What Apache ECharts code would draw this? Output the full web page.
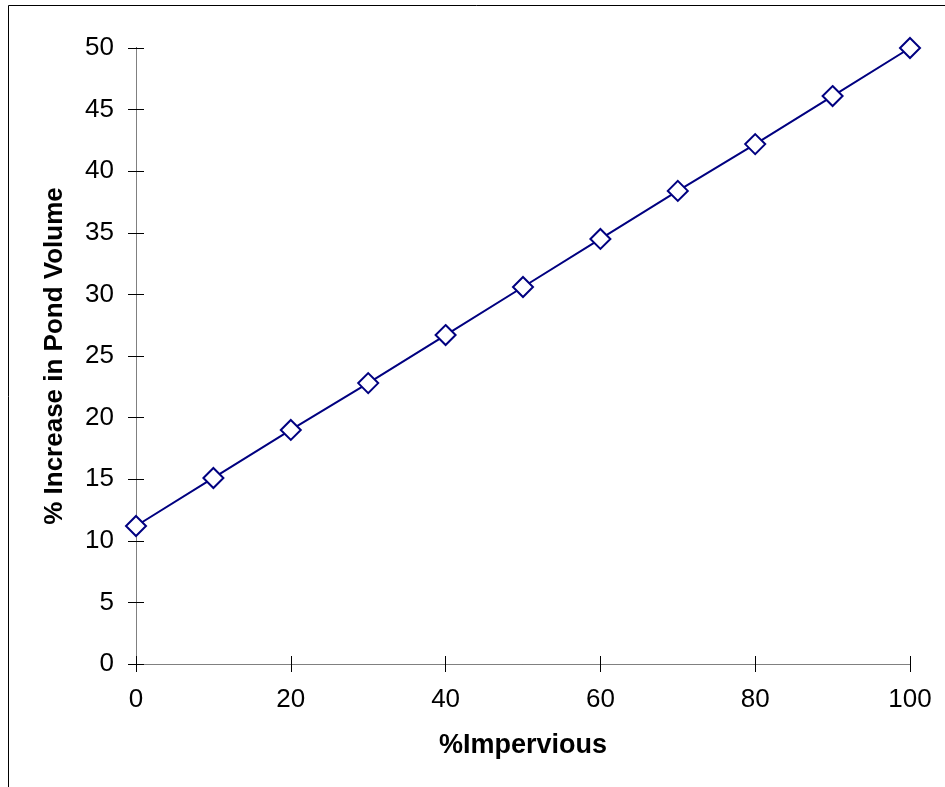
<!DOCTYPE html>
<html>
<head>
<meta charset="utf-8">
<script src="https://cdn.jsdelivr.net/npm/echarts@6/dist/echarts.min.js"></script>
<style>
html,body{margin:0;padding:0;background:#fff;}
#chart{width:945px;height:787px;}
</style>
</head>
<body>
<div id="chart"></div>
<script>
var imperviousPct = [0, 10, 20, 30, 40, 50, 60, 70, 80, 90, 100];
var volumeIncrease = [11.2, 15.1, 19.0, 22.8, 26.7, 30.6, 34.5, 38.4, 42.2, 46.1, 50.0];
var xTitle = '%Impervious';
var yTitle = '% Increase in Pond Volume';

var FONT = '"Liberation Sans", Arial, sans-serif';
var chart = echarts.init(document.getElementById('chart'));
var points = imperviousPct.map(function (x, i) { return [x, volumeIncrease[i]]; });

chart.setOption({
  animation: false,
  backgroundColor: '#fff',
  grid: { left: 136, right: 35, top: 48, bottom: 123, containLabel: false },
  graphic: [
    { type: 'line', shape: { x1: 8.5, y1: 5.5, x2: 945, y2: 5.5 }, style: { stroke: '#000', lineWidth: 1 } },
    { type: 'line', shape: { x1: 8.5, y1: 5.5, x2: 8.5, y2: 787 }, style: { stroke: '#000', lineWidth: 1 } }
  ],
  xAxis: [
    {
      type: 'value', position: 'bottom', min: 0, max: 100, interval: 20,
      axisLine: { lineStyle: { color: '#000', width: 1 } },
      axisTick: { show: true, inside: false, length: 8, lineStyle: { color: '#000' } },
      axisLabel: { color: '#000', fontFamily: FONT, fontSize: 26, margin: 23 },
      splitLine: { show: false },
      name: xTitle, nameLocation: 'middle', nameGap: 68,
      nameTextStyle: { color: '#000', fontFamily: FONT, fontSize: 27, fontWeight: 'bold' }
    },
    {
      type: 'value', position: 'bottom', min: 0, max: 100, interval: 20,
      axisLine: { lineStyle: { color: '#000', width: 1 } },
      axisTick: { show: true, inside: true, length: 8, lineStyle: { color: '#000' } },
      axisLabel: { show: false }, splitLine: { show: false }
    },
    {
      type: 'value', position: 'top', min: 0, max: 100,
      axisLine: { lineStyle: { color: '#808080', width: 1 } },
      axisTick: { show: false }, axisLabel: { show: false }, splitLine: { show: false }
    }
  ],
  yAxis: [
    {
      type: 'value', position: 'left', min: 0, max: 50, interval: 5,
      axisLine: { show: true, lineStyle: { color: '#000', width: 1 } },
      axisTick: { show: true, inside: false, length: 8, lineStyle: { color: '#000' } },
      axisLabel: { color: '#000', fontFamily: FONT, fontSize: 26, margin: 22 },
      splitLine: { show: false },
      name: yTitle, nameLocation: 'middle', nameGap: 68,
      nameTruncate: { maxWidth: 345, ellipsis: '' },
      nameTextStyle: { color: '#000', fontFamily: FONT, fontSize: 26, fontWeight: 'bold' }
    },
    {
      type: 'value', position: 'left', min: 0, max: 50, interval: 5,
      axisLine: { show: true, lineStyle: { color: '#000', width: 1 } },
      axisTick: { show: true, inside: true, length: 8, lineStyle: { color: '#000' } },
      axisLabel: { show: false }, splitLine: { show: false }
    },
    {
      type: 'value', position: 'right', min: 0, max: 50,
      axisLine: { show: true, lineStyle: { color: '#808080', width: 1 } },
      axisTick: { show: false }, axisLabel: { show: false }, splitLine: { show: false }
    }
  ],
  series: [
    {
      type: 'line', xAxisIndex: 0, yAxisIndex: 0,
      data: points,
      symbol: 'diamond', symbolSize: 20, showAllSymbol: true,
      lineStyle: { color: '#000080', width: 2 },
      itemStyle: { color: '#fff', borderColor: '#000080', borderWidth: 2 },
      z: 10
    }
  ]
});
</script>
</body>
</html>
